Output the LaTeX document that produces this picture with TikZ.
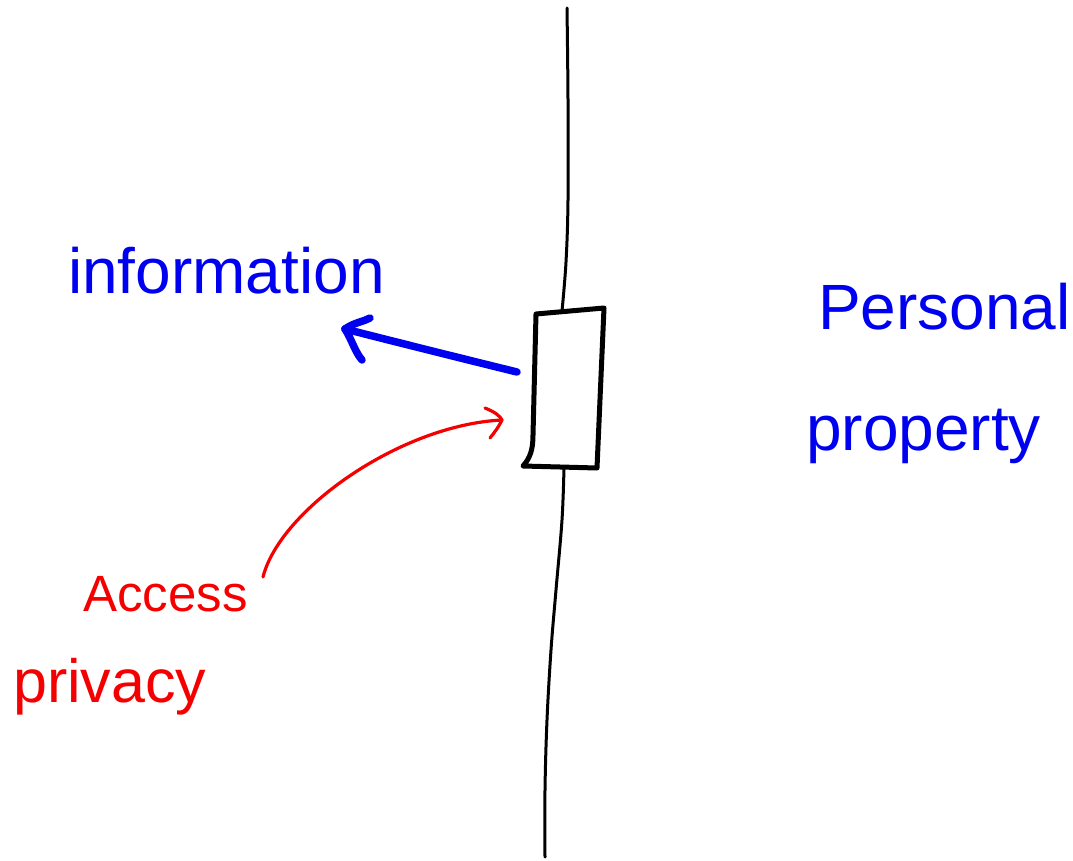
\documentclass[tikz,border=0pt]{standalone}
\usepackage{fontspec}
\setmainfont{Liberation Sans}
\definecolor{penblue}{RGB}{0,0,240}
\definecolor{penred}{RGB}{245,0,0}
\begin{document}
\begin{tikzpicture}[x=1pt,y=-1pt,
  wall/.style={line width=3pt,black,line cap=round,line join=round},
  boxline/.style={line width=5pt,black,line cap=round,line join=round},
  bluearrow/.style={line width=7.5pt,penblue,line cap=round,line join=round},
  redarrow/.style={line width=3.2pt,penred,line cap=round,line join=round},
  bluetext/.style={penblue,inner sep=0pt,anchor=base west,font=\fontsize{64}{70}\selectfont},
  redtext/.style={penred,inner sep=0pt,anchor=base west,font=\fontsize{51}{60}\selectfont}]
\useasboundingbox (0,0) rectangle (1073,861);
% box corners
\coordinate (btl) at (536,314);
\coordinate (btr) at (604,308);
\coordinate (bbr) at (597,468);
\coordinate (bbl) at (523,466);
\coordinate (btop) at (562,311);
\coordinate (bbot) at (564,467);
\node[minimum width=70pt,minimum height=156pt,inner sep=0pt] (box) at (563,389) {};
% wall line
\coordinate (wtop) at (567,8);
\coordinate (wbot) at (545,857);
\draw[wall] plot[smooth,tension=0.6] coordinates {(wtop) (568,100) (568,200) (566,262) (btop)};
\draw[wall] plot[smooth,tension=0.6] coordinates {(bbot) (562,520) (556,590) (551,650) (547,720) (545,790) (wbot)};
% box outline
\draw[boxline] (btl) -- (btr) -- (bbr) -- (bbl) .. controls (530,458) and (533,450) .. (533,435) -- cycle;
% texts
\node[bluetext] (info) at (68,293) {information};
\node[bluetext] (pers) at (818,329) {Personal};
\node[bluetext] (prop) at (806,450) {property};
\node[redtext] (acc) at (83,611) {Access};
\node[redtext,font=\fontsize{61}{66}\selectfont] (priv) at (13,702) {privacy};
% blue arrow
\coordinate (bstart) at (517,372);
\coordinate (btip) at (345,329);
\draw[bluearrow] (bstart) .. controls (460,358) and (400,343) .. (btip);
\draw[bluearrow] (btip) .. controls (355,322) and (363,322) .. (370,318);
\draw[bluearrow] (btip) .. controls (352,340) and (355,352) .. (362,360);
% red arrow
\coordinate (rstart) at (263,577);
\coordinate (rtip) at (502,420);
\draw[redarrow] (rstart) .. controls (280,510) and (400,425) .. (rtip);
\draw[redarrow] (485,408) .. controls (495,412) and (500,416) .. (rtip) .. controls (498,428) and (494,433) .. (490,438);
\end{tikzpicture}
\end{document}
